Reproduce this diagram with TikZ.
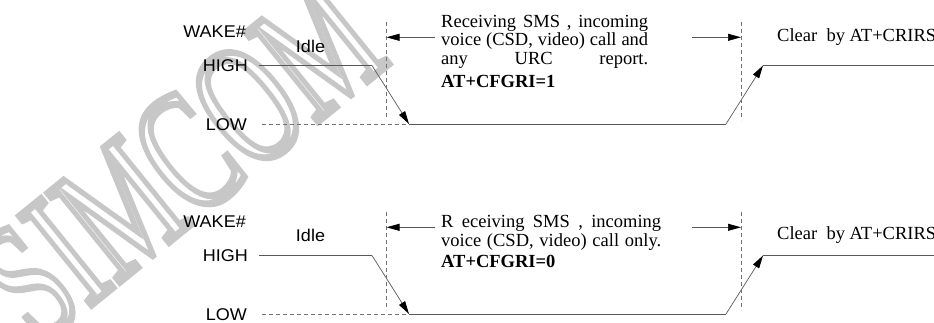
\documentclass[tikz,border=0pt]{standalone}
\usepackage{fontspec}
\usepackage{graphicx}
\usetikzlibrary{arrows.meta}
\setmainfont{Liberation Serif}
\newfontfamily\arialf{Liberation Sans}
\newcommand{\sw}[1]{\scalebox{1.06}[1]{#1}}
\newcommand{\outlinetext}[1]{\special{pdf:literal direct 1 Tr 5 w}#1\special{pdf:literal direct 0 Tr 1 w}}
\begin{document}
\begin{tikzpicture}[x=1pt,y=-1pt,
  sig/.style={draw=black!65, line width=0.7pt},
  gridline/.style={draw=black!55, line width=0.6pt, dash pattern=on 4pt off 3pt},
  tip/.style={-{Triangle[length=13pt,width=7pt,color=black]}},
  lbl/.style={font=\arialf\fontsize{17}{20}\selectfont, inner sep=0pt},
  body/.style={font=\fontsize{18.5}{20}\selectfont, inner sep=0pt, anchor=base west},
]
\useasboundingbox (0,0) rectangle (934,323);
\clip (0,0) rectangle (934,323);
% watermark
\node[rotate=39, inner sep=0pt, text=black!22] (wm) at (180,160)
  {\scalebox{1}[1.55]{\fontsize{112}{112}\selectfont\outlinetext{SIMCOM}}};

% ---------- top panel ----------
\node[lbl, anchor=east] (aW) at (246,32) {\sw{WAKE\#}};
\node[lbl] (aI) at (310.5,46.5) {\sw{Idle}};
\node[lbl, anchor=east] (aH) at (248,66) {\sw{HIGH}};
\node[lbl, anchor=east] (aL) at (247,125) {\sw{LOW}};
\coordinate (aH0) at (259,65.5);
\coordinate (aH1) at (372,65.5);
\coordinate (aL0) at (409,124);
\coordinate (aL1) at (726,124);
\coordinate (aH2) at (763,65.5);
\coordinate (aH3) at (934,65.5);
\coordinate (aD0) at (262,124);
\draw[sig] (aH0) -- (aH1);
\draw[sig,tip] (aH1) -- (aL0);
\draw[sig] (aL0) -- (aL1);
\draw[sig,tip] (aL1) -- (aH2);
\draw[sig] (aH2) -- (aH3);
\draw[gridline] (aD0) -- (aL0);
\coordinate (aV0) at (386,22);
\coordinate (aV1) at (386,120);
\coordinate (aV2) at (741.5,22);
\coordinate (aV3) at (741.5,120);
\draw[gridline] (aV0) -- (aV1);
\draw[gridline] (aV2) -- (aV3);
\coordinate (aA0) at (435,37.3);
\coordinate (aA1) at (692,37.3);
\coordinate (aP0) at (386.5,37.3);
\coordinate (aP1) at (741,37.3);
\draw[sig,tip] (aA0) -- (aP0);
\draw[sig,tip] (aA1) -- (aP1);
\node[body] (aT1) at (441,27.5) {\makebox[207pt][s]{Receiving SMS , incoming}};
\node[body] (aT2) at (441,45.7) {\makebox[207pt][s]{voice (CSD, video) call and}};
\node[body] (aT3) at (441,65) {\makebox[207pt][s]{any URC report.}};
\node[body] (aT4) at (441,87.5) {\textbf{AT+CFGRI=1}};
\node[body] (aC) at (777,41.7) {Clear\ \ by AT+CRIRS};

% ---------- bottom panel ----------
\node[lbl, anchor=east] (bW) at (246,222) {\sw{WAKE\#}};
\node[lbl] (bI) at (310.5,235) {\sw{Idle}};
\node[lbl, anchor=east] (bH) at (248,256) {\sw{HIGH}};
\node[lbl, anchor=east] (bL) at (247,314.5) {\sw{LOW}};
\coordinate (bH0) at (259,255.5);
\coordinate (bH1) at (372,255.5);
\coordinate (bL0) at (409,314);
\coordinate (bL1) at (726,314);
\coordinate (bH2) at (763,255.5);
\coordinate (bH3) at (934,255.5);
\coordinate (bD0) at (262,314);
\draw[sig] (bH0) -- (bH1);
\draw[sig,tip] (bH1) -- (bL0);
\draw[sig] (bL0) -- (bL1);
\draw[sig,tip] (bL1) -- (bH2);
\draw[sig] (bH2) -- (bH3);
\draw[gridline] (bD0) -- (bL0);
\coordinate (bV0) at (386,212);
\coordinate (bV1) at (386,310);
\coordinate (bV2) at (741.5,212);
\coordinate (bV3) at (741.5,310);
\draw[gridline] (bV0) -- (bV1);
\draw[gridline] (bV2) -- (bV3);
\coordinate (bA0) at (435,227.3);
\coordinate (bA1) at (692,227.3);
\coordinate (bP0) at (386.5,227.3);
\coordinate (bP1) at (741,227.3);
\draw[sig,tip] (bA0) -- (bP0);
\draw[sig,tip] (bA1) -- (bP1);
\node[body] (bT1) at (441,228) {\makebox[220pt][s]{R eceiving SMS , incoming}};
\node[body] (bT2) at (441,246.5) {\makebox[220pt][s]{voice (CSD, video) call only.}};
\node[body] (bT3) at (441,267) {\textbf{AT+CFGRI=0}};
\node[body] (bC) at (777,240) {Clear\ \ by AT+CRIRS};
\end{tikzpicture}
\end{document}
